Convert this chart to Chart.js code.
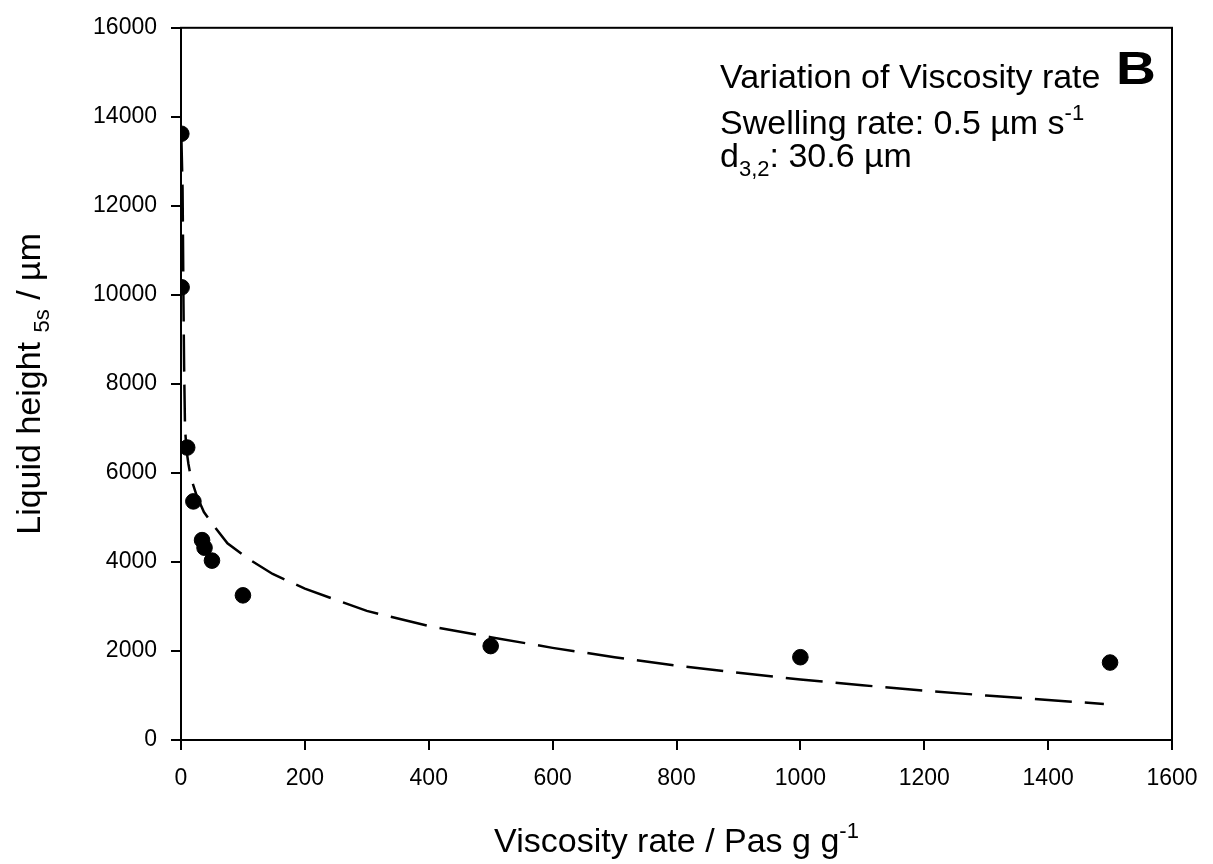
<!DOCTYPE html>
<html>
<head>
<meta charset="utf-8">
<script src="https://cdn.jsdelivr.net/npm/chart.js@4/dist/chart.umd.min.js"></script>
<style>
  html, body { margin: 0; padding: 0; background: #fff; }
  #wrap { width: 1213px; height: 864px; }
</style>
</head>
<body>
<div id="wrap"><canvas id="chart" width="1213" height="864"></canvas></div>
<script>
//================ data ================
var viscosity = [0.5, 1, 10, 20, 34, 38, 50, 100, 500, 1000, 1500];
var liquidHeight = [13620, 10170, 6570, 5360, 4490, 4320, 4030, 3250, 2110, 1860, 1740];

// dashed fit line
var fitX = [0.5, 2.5, 3.2, 4, 5, 6.5, 9, 12, 16, 25, 37, 52, 75, 106, 148, 200, 300, 400, 500, 600, 700, 800, 900, 1000, 1100, 1200, 1300, 1400, 1490];
var fitY = [13600, 12400, 11300, 9800, 8400, 7000, 6500, 6200, 5890, 5500, 5120, 4830, 4420, 4095, 3730, 3400, 2900, 2560, 2310, 2070, 1860, 1670, 1510, 1360, 1230, 1110, 1000, 900, 810];

var xTicks = [0, 200, 400, 600, 800, 1000, 1200, 1400, 1600];
var yTicks = [0, 2000, 4000, 6000, 8000, 10000, 12000, 14000, 16000];

var FONT = "'Liberation Sans', Arial, sans-serif";

//================ helpers ================
function toPoints(xs, ys) {
    return xs.map(function(v, i) { return { x: v, y: ys[i] }; });
}

// draws a list of text pieces (normal / sub / sup) one after another
function drawRich(ctx, x, y, segs, align) {
    var total = 0;
    segs.forEach(function(s) {
        ctx.font = (s.bold ? 'bold ' : '') + s.size + 'px ' + FONT;
        s.w = ctx.measureText(s.t).width;
        total += s.w;
    });
    var cx = align === 'center' ? x - total / 2 : x;
    ctx.textAlign = 'left';
    ctx.textBaseline = 'alphabetic';
    segs.forEach(function(s) {
        ctx.font = (s.bold ? 'bold ' : '') + s.size + 'px ' + FONT;
        ctx.fillText(s.t, cx, y + (s.dy || 0));
        cx += s.w;
    });
}

//================ box + text plugin ================
var framePlugin = {
    id: 'framePlugin',
    afterDraw: function(chart) {
        var ctx = chart.ctx;
        var a = chart.chartArea;
        ctx.save();
        ctx.strokeStyle = '#000';
        ctx.lineWidth = 2;
        ctx.strokeRect(a.left, a.top, a.right - a.left, a.bottom - a.top);
        ctx.fillStyle = '#000';

        // x axis title
        drawRich(ctx, (a.left + a.right) / 2, 852, [
            { t: 'Viscosity rate / Pas g g', size: 34 },
            { t: '-1', size: 22, dy: -14 }
        ], 'center');

        // y axis title (rotated)
        ctx.save();
        ctx.translate(40, (a.top + a.bottom) / 2);
        ctx.rotate(-Math.PI / 2);
        drawRich(ctx, 0, 0, [
            { t: 'Liquid height ', size: 34 },
            { t: '5s', size: 22, dy: 9 },
            { t: ' / µm', size: 34 }
        ], 'center');
        ctx.restore();

        // annotation block
        drawRich(ctx, 720, 88, [{ t: 'Variation of Viscosity rate', size: 34 }], 'left');
        drawRich(ctx, 720, 134, [
            { t: 'Swelling rate: 0.5 µm s', size: 34 },
            { t: '-1', size: 22, dy: -14 }
        ], 'left');
        drawRich(ctx, 720, 167, [
            { t: 'd', size: 34 },
            { t: '3,2', size: 22, dy: 9 },
            { t: ': 30.6 µm', size: 34 }
        ], 'left');

        // panel letter, a wide bold B
        ctx.save();
        ctx.translate(1116, 84);
        ctx.scale(1.2, 1);
        drawRich(ctx, 0, 0, [{ t: 'B', size: 46, bold: true }], 'left');
        ctx.restore();
        ctx.restore();
    }
};

//================ chart ================
var ctx = document.getElementById('chart');
var viscosityChart = new Chart(ctx, {
    type: 'scatter',
    data: {
        datasets: [{
            label: 'Measured',
            data: toPoints(viscosity, liquidHeight),
            backgroundColor: '#000',
            borderColor: '#000',
            pointRadius: 7.8,
            pointHoverRadius: 7.8,
            order: 1
        }, {
            label: 'Fit',
            data: toPoints(fitX, fitY),
            showLine: true,
            borderColor: '#000',
            borderWidth: 2.5,
            borderDash: [37, 13],
            pointRadius: 0,
            tension: 0,
            fill: false,
            order: 2
        }]
    },
    options: {
        responsive: false,
        animation: false,
        layout: { padding: { top: 24, right: 41, left: 0, bottom: 0 } },
        plugins: {
            legend: { display: false },
            tooltip: { enabled: false }
        },
        scales: {
            x: {
                type: 'linear',
                min: 0,
                max: 1600,
                afterFit: function(scale) { scale.height = 124; },
                afterBuildTicks: function(scale) {
                    scale.ticks = xTicks.map(function(v) { return { value: v }; });
                },
                ticks: {
                    color: '#000',
                    font: { family: FONT, size: 23 },
                    padding: 15,
                    maxRotation: 0,
                    callback: function(v) { return String(v); }
                },
                grid: {
                    drawOnChartArea: false,
                    drawTicks: true,
                    tickLength: 10,
                    color: '#000',
                    lineWidth: 2
                },
                border: { display: true, color: '#000', width: 2 }
            },
            y: {
                type: 'linear',
                min: 0,
                max: 16000,
                afterFit: function(scale) { scale.width = 181; },
                afterBuildTicks: function(scale) {
                    scale.ticks = yTicks.map(function(v) { return { value: v }; });
                },
                ticks: {
                    color: '#000',
                    font: { family: FONT, size: 23 },
                    padding: 14,
                    callback: function(v) { return String(v); }
                },
                grid: {
                    drawOnChartArea: false,
                    drawTicks: true,
                    tickLength: 10,
                    color: '#000',
                    lineWidth: 2
                },
                border: { display: true, color: '#000', width: 2 }
            }
        }
    },
    plugins: [framePlugin]
});
</script>
</body>
</html>
